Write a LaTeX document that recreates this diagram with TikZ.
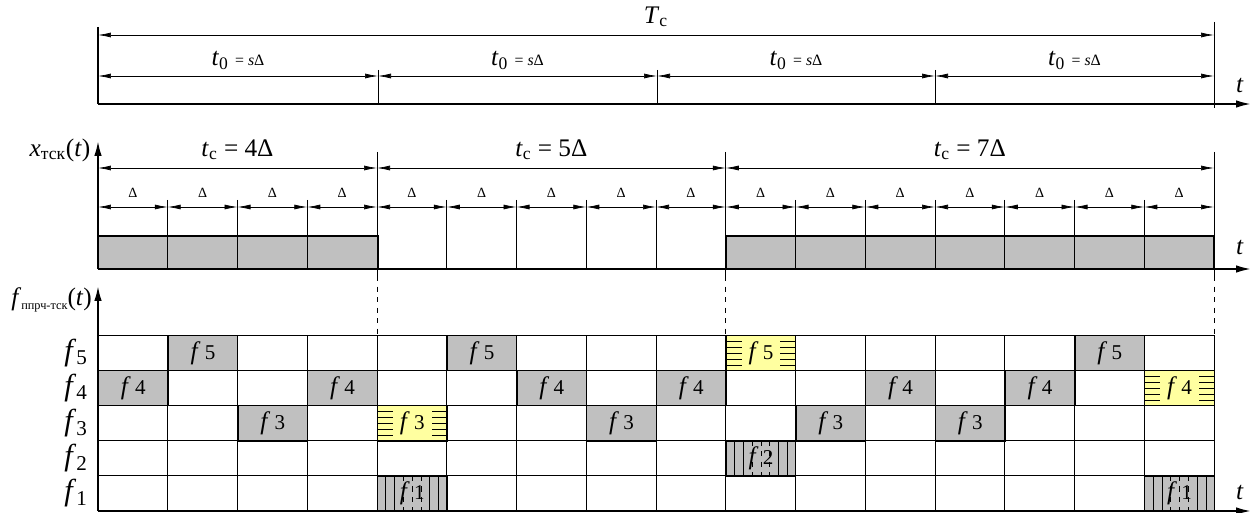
\documentclass[tikz,border=0pt]{standalone}
\usepackage{fontspec}
\setmainfont{Liberation Serif}
\usetikzlibrary{arrows.meta,calc}
\definecolor{G1}{RGB}{192,192,192}
\definecolor{Y1}{RGB}{255,255,160}
\tikzset{
  dim/.style={thin,<->},
  axis/.style={line width=1.4pt,-{Latex[length=3.2mm,width=1.5mm]}},
  cell/.style={draw,anchor=north west,inner sep=0pt,minimum width=1.395cm,minimum height=0.704cm,font=\Large},
  busy/.style={cell,fill=G1},
  jam/.style={cell,fill=Y1}
}

\begin{document}
\begin{tikzpicture}[x=0.02cm,y=-0.02cm,>={Latex[length=2.6mm,width=1mm]}]
  \useasboundingbox (0,0) rectangle (1254,513);
  % top panel: whole cycle and the four hops
  \draw[line width=1.4pt] (98,27) -- (98,104);
  \draw[axis] (98,104) -- (1252,104);
  \node at (1240,86) {\Large\textit{t}};
  \foreach \n/\x in {0/98,1/378,2/657,3/935,4/1214}
    \coordinate (h\n) at (\x,76);
  \foreach \n in {1,2,3} \draw (h\n) ++(0,-6) -- ++(0,34);
  \draw (1214,22) -- (1214,108);
  \coordinate (T0) at (98,35);
  \coordinate (T1) at (1214,35);
  \draw[dim] (T0) -- node[above=1pt] (Tc) {\Large\textit{T}\textsubscript{c}} (T1);
  \foreach \a/\b in {0/1,1/2,2/3,3/4}
    \draw[dim] (h\a) -- node[above] (t\a) {\Large\textit{t}\textsubscript{0} {\small = \textit{s}Δ}} (h\b);

  % middle panel: signal duration and slots
  \foreach \i in {0,...,16}
    \coordinate (c\i) at ({98+\i*69.75},207);
  \foreach \i in {0,1,2,3,9,10,11,12,13,14,15}
    \draw[fill=G1] ({98+\i*69.75},236) rectangle ++(69.75,33);
  \draw[line width=1.4pt] (98,236) -| (378,269) (726,269) |- (1214,236) -- (1214,269);
  \draw[axis] (98,269) -- (98,140);
  \draw[axis] (98,269) -- (1252,269);
  \node at (1240,248) {\Large\textit{t}};
  \node (xl) at (60,150) {\Large\textit{x}\textsubscript{тск}(\textit{t})};
  \foreach \i in {1,...,15} \draw (c\i) ++(0,-7) -- ++(0,69);
  \foreach \i in {4,9,16} {
    \draw (c\i) ++(0,-55) -- ++(0,124);
    \draw[dashed] (c\i) ++(0,69) -- ++(0,59);
  }
  \foreach \i [count=\j] in {0,...,15}
    \draw[dim] (c\i) -- node[above=2pt] (d\i) {\footnotesize Δ} (c\j);
  \foreach \n/\i in {0/0,1/4,2/9,3/16}
    \coordinate (g\n) at ({98+\i*69.75},168);
  \foreach \a/\b/\m in {0/1/4,1/2/5,2/3/7}
    \draw[dim] (g\a) -- node[above=1pt] (s\a) {\Large\textit{t}\textsubscript{c} = \m Δ} (g\b);

  % bottom panel: frequency-time grid
  \foreach \i/\k in {0/4,1/5,2/3,3/4,5/5,6/4,7/3,8/4,10/3,11/4,12/3,13/4,14/5}
    \node[busy] (b\i) at ({98+\i*69.75},{335+(5-\k)*35.2}) {\textit{f}\,{\large\k}};
  \foreach \i/\k in {4/3,9/5,15/4} {
    \node[jam] (y\i) at ({98+\i*69.75},{335+(5-\k)*35.2}) {};
    \foreach \s in {1,...,5}
      \draw ($(y\i.north west)!\s/6!(y\i.south west)$) -- ($(y\i.north east)!\s/6!(y\i.south east)$);
    \node[fill=Y1,inner xsep=4pt,inner ysep=1pt,font=\Large] at (y\i) {\textit{f}\,{\large\k}};
  }
  \foreach \i/\k in {4/1,9/2,15/1} {
    \node[busy] (v\i) at ({98+\i*69.75},{335+(5-\k)*35.2}) {};
    \foreach \s in {1,2,6,7}
      \draw ($(v\i.north west)!\s/8!(v\i.north east)$) -- ($(v\i.south west)!\s/8!(v\i.south east)$);
    \foreach \s in {3,4,5}
      \draw[dashed] ($(v\i.north west)!\s/8!(v\i.north east)$) -- ($(v\i.south west)!\s/8!(v\i.south east)$);
    \node[font=\Large] at (v\i) {\textit{f}\,{\large\k}};
  }
  \foreach \r in {0,...,4} \draw (98,{335+\r*35.2}) -- (1214,{335+\r*35.2});
  \foreach \i in {1,...,16} \draw ({98+\i*69.75},335) -- ({98+\i*69.75},511);
  \draw[axis] (98,511) -- (98,285);
  \draw[axis] (98,511) -- (1252,511);
  \node at (1240,492) {\Large\textit{t}};
  \node[anchor=east,inner sep=1pt] (fl) at (94,300) {{\Large\textit{f}}\raisebox{-0.5ex}{\scriptsize ппрч-тск}{\Large(\textit{t})}};
  \foreach \k in {1,...,5}
    \node[font=\LARGE] (r\k) at (76,{335+(5.5-\k)*35.2}) {\textit{f}\textsubscript{\k}};
\end{tikzpicture}
\end{document}
